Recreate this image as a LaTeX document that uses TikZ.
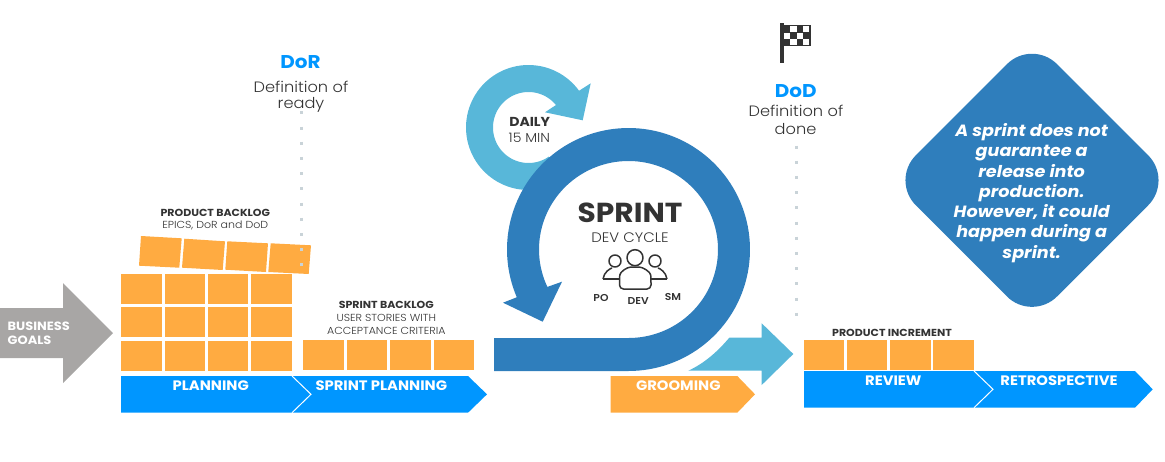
\documentclass[tikz,border=0pt]{standalone}
\usepackage{fontspec}
\setmainfont{Poppins}[FakeStretch=1.08]
\newfontfamily\plight{Poppins Light}[FakeStretch=1.08]
\newfontfamily\psemi{Poppins SemiBold}[FakeStretch=1.08]
\definecolor{tileor}{HTML}{FFAB41}
\definecolor{chevblue}{HTML}{0096FF}
\definecolor{sprintblue}{HTML}{2F7EBC}
\definecolor{skyblue}{HTML}{58B7D9}
\definecolor{goalgray}{HTML}{A8A6A5}
\definecolor{inkc}{HTML}{333333}
\definecolor{dotc}{HTML}{C9D3D8}
\tikzset{
  tile/.style={fill=tileor,draw=none},
  chev/.style={fill=chevblue,draw=none},
  split/.style={draw=white,line width=1pt},
  dotline/.style={draw=dotc,line width=3pt,dash pattern=on 3pt off 12.2pt},
  head/.style={font=\bfseries\fontsize{10.2}{11}\selectfont,text=inkc,inner sep=0pt},
  sub/.style={font=\plight\fontsize{10.2}{11}\selectfont,text=inkc,inner sep=0pt},
  chevlabel/.style={font=\bfseries\fontsize{13.7}{15}\selectfont,text=white,inner sep=0pt},
  role/.style={font=\psemi\fontsize{10}{12}\selectfont,text=inkc,inner sep=0pt},
  deftext/.style={font=\plight\fontsize{15}{17}\selectfont,text=inkc,inner sep=0pt},
  defhead/.style={font=\bfseries\fontsize{18.5}{21}\selectfont,text=chevblue,inner sep=0pt},
  icon/.style={draw=inkc,line width=1.5pt,line join=round},
}
\begin{document}
\begin{tikzpicture}[x=1pt,y=-1pt]
\useasboundingbox (0,0) rectangle (1165,461);
% business goals
\fill[goalgray] (0,308) -- (63,308) -- (63,283) -- (113,333) -- (63,383) -- (63,358) -- (0,358) -- cycle;
\node[font=\bfseries\fontsize{12}{13.5}\selectfont,text=white,inner sep=0pt,align=left,anchor=west] (goals) at (7.5,333.5) {BUSINESS\\GOALS};
% backlog grid
\foreach \x/\w in {121/41,165/40,208/40,251/41}
  \foreach \y in {274,307,341}
    \fill[tile] (\x,\y) rectangle ++(\w,30);
% tilted tiles
\fill[tile] (141,236) -- (181.7,238.3) -- (179.3,267.7) -- (139,265.7) -- cycle;
\fill[tile] (184.3,238.7) -- (225,241.3) -- (222.7,270) -- (182,267.7) -- cycle;
\fill[tile] (227.3,241.3) -- (268,243.3) -- (266,272) -- (225.3,269.7) -- cycle;
\fill[tile] (270.7,243.3) -- (311,245.3) -- (308.7,274) -- (268.3,272) -- cycle;
% sprint backlog tiles
\foreach \x/\w in {303/41,347/40,390/41,434/40}
  \fill[tile] (\x,340) rectangle ++(\w,30);
% increment tiles
\foreach \x/\w in {803.5/40.5,847/40,890/41,933/41}
  \fill[tile] (\x,340) rectangle ++(\w,29.5);
% chevrons
\fill[chev] (292,376) -- (468,376) -- (487,394.3) -- (468,412.7) -- (292,412.7) -- cycle;
\fill[chev] (121,376) -- (292,376) -- (311,394.3) -- (292,412.7) -- (121,412.7) -- cycle;
\draw[split] (292,376) -- (311,394.3) -- (292,412.7);
\fill[tileor] (610.7,376) -- (737.3,376) -- (755,394.3) -- (737.3,412.7) -- (610.7,412.7) -- cycle;
\fill[chev] (974,371) -- (1135,371) -- (1152.7,389.3) -- (1135,407.7) -- (974,407.7) -- cycle;
\fill[chev] (804,371) -- (974,371) -- (993,389.3) -- (974,407.7) -- (804,407.7) -- cycle;
\draw[split] (974,371) -- (993,389.3) -- (974,407.7);
\node[chevlabel] (planning) at (210.7,386) {PLANNING};
\node[chevlabel] (splanning) at (381.3,386) {SPRINT PLANNING};
\node[chevlabel] (grooming) at (678.3,386) {GROOMING};
\node[chevlabel] (review) at (893.3,381) {REVIEW};
\node[chevlabel] (retro) at (1059,381) {RETROSPECTIVE};
% captions
\node[head] (pb) at (215.3,213) {PRODUCT BACKLOG};
\node[sub] (pbs) at (215.3,225.5) {EPICS, DoR and DoD};
\node[head] (sb) at (386.3,305) {SPRINT BACKLOG};
\node[sub] (sbs1) at (386.3,318) {USER STORIES WITH};
\node[sub] (sbs2) at (386.3,331) {ACCEPTANCE CRITERIA};
\node[head] (pi) at (892,333) {PRODUCT INCREMENT};
% daily arrow
\fill[skyblue] plot[domain=55:324,samples=80] ({528.5+62.5*cos(\x)},{127.5+62.5*sin(\x)})
  -- (590.7,83.3) -- (582.7,120.3) -- (545,112.3) -- (556,105)
  -- plot[domain=321:55,samples=80] ({528.5+35.5*cos(\x)},{127.5+35.5*sin(\x)}) -- cycle;
% groom arrow
\fill[skyblue] (688.3,370.7) .. controls (705,363) and (718,351) .. (729.3,337.7) -- (761.7,337.7) -- (761.7,323.3) -- (793.3,354) -- (761.7,385) -- (761.7,370.7) -- cycle;
% sprint loop
\fill[sprintblue] (494,338) -- (628.5,338)
  -- plot[domain=90:-205,samples=120] ({628.5+89.5*cos(\x)},{249.5+88.5*sin(\x)})
  -- (562,281.7) -- (542.7,321.7) -- (503,302.7) -- (516.7,297.3)
  -- plot[domain=157:450,samples=120] ({628.5+121.5*cos(\x)},{249.5+121.5*sin(\x)})
  -- (494,371) -- cycle;
% centre text
\node[font=\bfseries\fontsize{27.5}{30}\selectfont,text=inkc,inner sep=0pt] (sprint) at (630,213) {SPRINT};
\node[font=\plight\fontsize{13.8}{15}\selectfont,text=inkc,inner sep=0pt] (cycle) at (630,238) {DEV CYCLE};
\node[font=\bfseries\fontsize{13}{14}\selectfont,text=inkc,inner sep=0pt] (daily) at (529.7,122) {DAILY};
\node[font=\plight\fontsize{13}{14}\selectfont,text=inkc,inner sep=0pt] (min) at (529.3,137.7) {15 MIN};
% people icon
\draw[icon] (615,261) circle (6);
\draw[icon] (655,261) circle (6);
\draw[icon] (603,279) .. controls (604,272) and (610,268.5) .. (612,268) ;
\draw[icon] (603,279) -- (620,279);
\draw[icon] (667,279) .. controls (666,272) and (660,268.5) .. (658,268);
\draw[icon] (650,279) -- (667,279);
\draw[icon,fill=white] (635,257.7) circle (8);
\draw[icon,fill=white,rounded corners=4pt] (619.5,289) -- (619.5,279) .. controls (620,272) and (627,267) .. (635,267) .. controls (643,267) and (650.5,272) .. (651,279) -- (651,289) -- cycle;
\node[role] (po) at (601,298) {PO};
\node[role] (dev) at (638.3,300.7) {DEV};
\node[role] (sm) at (673,297) {SM};
% definition columns
\coordinate (dorlow) at (301,266.5);
\coordinate (dortop) at (301,111.3);
\draw[dotline] (dortop) -- (dorlow);
\node[defhead] (dor) at (300.5,62) {DoR};
\node[deftext] (dordef) at (301,87) {Definition of};
\node[deftext] (dorready) at (301,105) {ready};
\node[defhead] (dod) at (795.7,90.7) {DoD};
\node[deftext] (doddef) at (796,110.7) {Definition of};
\node[deftext] (doddone) at (795.5,129) {done};
\coordinate (dodtop) at (796,145.5);
\coordinate (dodlow) at (796,316);
\draw[dotline] (dodtop) -- (dodlow);
% flag
\fill[inkc] (780.3,23) rectangle (784,62.7);
\fill[inkc] (784,25) rectangle (810.5,46);
\foreach \x/\y in {790.3/25.8,803.2/25.8,783.9/32.5,796.8/32.5,790.3/39.2,803.2/39.2}
  \fill[white] (\x,\y) rectangle ++(6.2,6);
% note diamond
\fill[sprintblue,rounded corners=35.4pt] (1032,39.1) -- (1173.2,180.3) -- (1032,321.5) -- (890.8,180.3) -- cycle;
\node[font=\bfseries\itshape\fontsize{16.3}{20.3}\selectfont,text=white,inner sep=0pt,align=center] (note) at (1031.7,193) {A sprint does not\\guarantee a\\release into\\production.\\However, it could\\happen during a\\sprint.};
\end{tikzpicture}
\end{document}
